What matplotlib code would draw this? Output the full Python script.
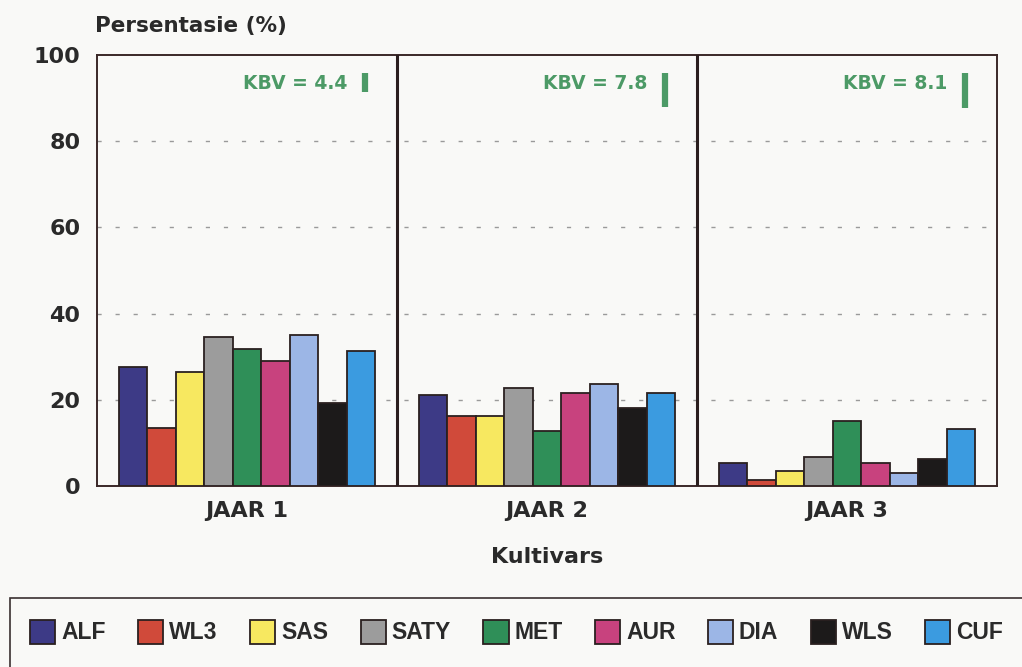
import matplotlib
matplotlib.use("Agg")
import matplotlib.pyplot as plt
import matplotlib.patches as mpatches
import numpy as np

plt.rcParams['font.family'] = ['DejaVu Sans']
plt.rcParams['font.weight'] = 'bold'

years = ["JAAR 1", "JAAR 2", "JAAR 3"]
cultivars = ["ALF", "WL3", "SAS", "SATY", "MET", "AUR", "DIA", "WLS", "CUF"]
colors = ["#3d3a86", "#d04a3a", "#f7e860", "#9c9c9c", "#2f8f58",
          "#c8427e", "#9cb6e6", "#1c1a1a", "#3b9be0"]
values = {
    "ALF":  [27.5, 21.2, 5.4],
    "WL3":  [13.5, 16.3, 1.4],
    "SAS":  [26.5, 16.2, 3.5],
    "SATY": [34.5, 22.8, 6.8],
    "MET":  [31.9, 12.7, 15.1],
    "AUR":  [29.1, 21.5, 5.3],
    "DIA":  [35.0, 23.6, 3.1],
    "WLS":  [19.3, 18.0, 6.3],
    "CUF":  [31.4, 21.5, 13.2],
}
kbv = [4.4, 7.8, 8.1]
yticks = [0, 20, 40, 60, 80, 100]

W, H = 1022, 667
fig = plt.figure(figsize=(W / 100, H / 100), dpi=100, facecolor="#f9f9f7")
ax = fig.add_axes([97 / W, 1 - 486 / H, 900 / W, 431 / H])
ax.set_facecolor("#f9f9f7")

n = len(cultivars)
bw = 0.095
x0 = np.arange(len(years)) + 0.5
for i, c in enumerate(cultivars):
    xs = x0 + (i - (n - 1) / 2) * bw
    ax.bar(xs, values[c], width=bw, color=colors[i], edgecolor="#2a2020",
           linewidth=1.3, zorder=3, label=c)

ax.set_xlim(0, 3)
ax.set_ylim(0, 100)
ax.set_yticks(yticks)
ax.set_yticklabels([str(t) for t in yticks], fontsize=16, fontweight="bold", color="#2a2a2a")
ax.set_xticks(x0)
ax.set_xticklabels(years, fontsize=16, fontweight="bold", color="#2a2a2a")
ax.tick_params(axis="y", length=0, pad=12)
ax.tick_params(axis="x", length=0, pad=11)

for t in yticks[1:-1]:
    ax.axhline(t, color="#9a9a9a", linestyle=(0, (3, 10)), linewidth=1.0, zorder=1)
for xv in [1, 2]:
    ax.axvline(xv, color="#2a1e1e", linewidth=2.2, zorder=4)
for s in ax.spines.values():
    s.set_color("#3a2828")
    s.set_linewidth(1.4)

green = "#4c9a66"
for g, k in enumerate(kbv):
    bx = g + 0.893
    ax.plot([bx, bx], [95.8, 95.8 - k], color=green, linewidth=4.5, solid_capstyle="butt", zorder=5)
    ax.text(bx - 0.06, 93.3, f"KBV = {k}", ha="right", va="center",
            fontsize=13.5, fontweight="bold", color=green, zorder=5)

fig.text(95 / W, 1 - 26 / H, "Persentasie (%)", ha="left", va="center",
         fontsize=15.5, fontweight="bold", color="#2a2a2a")
fig.text(547 / W, 1 - 557 / H, "Kultivars", ha="center", va="center",
         fontsize=16, fontweight="bold", color="#2a2a2a")

# legend frame
rect = mpatches.Rectangle((10 / W, -0.05), 1.1, (H - 598) / H + 0.05,
                          transform=fig.transFigure, fill=False,
                          edgecolor="#3a3030", linewidth=1.2)
fig.patches.append(rect)
handles, labels = ax.get_legend_handles_labels()
leg = fig.legend(handles, labels, loc="center left", bbox_to_anchor=(21 / W, 1 - 632 / H),
                 ncol=9, frameon=False,
                 prop={"family": ["Liberation Sans", "DejaVu Sans"], "weight": "bold", "size": 16.5},
                 handlelength=1.1, handleheight=1.25,
                 handletextpad=0.25, columnspacing=1.42, borderaxespad=0)
for t in leg.get_texts():
    t.set_color("#2a2a2a")

fig.savefig("out.png", dpi=100, facecolor=fig.get_facecolor())
